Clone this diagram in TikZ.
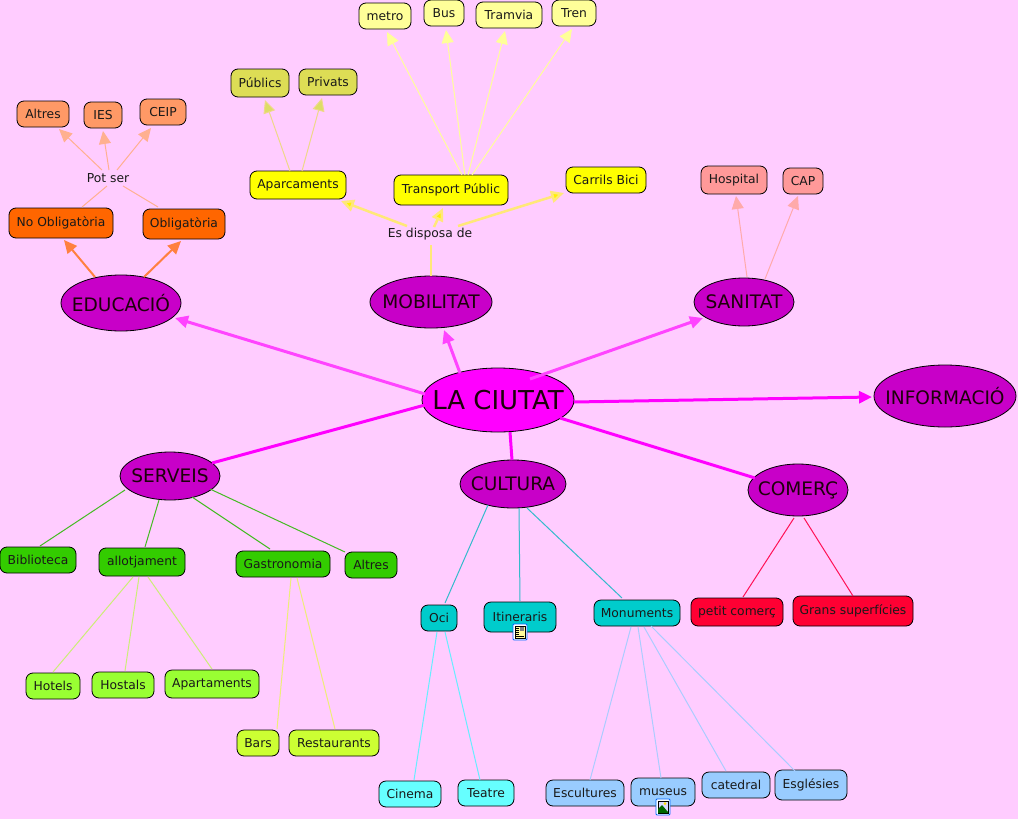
\documentclass[tikz,border=0pt]{standalone}
\usepackage{fontspec}
\setmainfont{DejaVu Sans}
\usetikzlibrary{arrows.meta,calc,shapes.geometric}
\definecolor{bg}{HTML}{FFCCFF}
\definecolor{HubC}{HTML}{C800C8}
\definecolor{mainmag}{HTML}{FF00FF}
\definecolor{ml}{HTML}{FF44FF}
\definecolor{EdC}{HTML}{FF8040}
\definecolor{EdL}{HTML}{FFB090}
\definecolor{MoC}{HTML}{FFE878}
\definecolor{PaC}{HTML}{EED888}
\definecolor{DDl}{HTML}{DDDD66}
\definecolor{TrC}{HTML}{FFFF99}
\definecolor{SaC}{HTML}{FFAAAA}
\definecolor{SeC}{HTML}{44BB22}
\definecolor{AlC}{HTML}{CCEE77}
\definecolor{GaC}{HTML}{EEEE77}
\definecolor{CuC}{HTML}{33BBCC}
\definecolor{OcC}{HTML}{66EEFF}
\definecolor{MnC}{HTML}{AACCFF}
\definecolor{CoC}{HTML}{FF1155}
\tikzset{
 x=1pt,y=-1pt,
 hub/.style={ellipse,draw=black,line width=.8pt,fill=#1,inner sep=0pt,text=black!85!purple},
 bx/.style={rectangle,rounded corners=7pt,draw=black,line width=.8pt,fill=#1,inner sep=0pt,font=\fontsize{12.3}{14}\selectfont,text=black!90},
 lbl/.style={inner sep=0pt,font=\fontsize{12.3}{14}\selectfont,text=black!90},
 tip/.style={-{Triangle[length=13pt,width=12pt,fill=#1]}},
 conn/.style={draw=#1,line width=1pt},
 mainl/.style={draw=#1,line width=3pt},
}
\newcommand{\cn}[6]{\draw[#1] ($(#2)+(#3)$) -- ($(#4)+(#5)$)#6;}
\begin{document}
\begin{tikzpicture}
\path[fill=bg] (0,0) rectangle (1018,819);
\useasboundingbox (0,0) rectangle (1018,819);
% hubs
\node[hub=mainmag,minimum width=152pt,minimum height=64pt,font=\fontsize{26}{28}\selectfont] (ciutat) at (498,400) {\makebox[0pt][c]{LA CIUTAT}};
\foreach \nm/\tx/\xx/\yy/\w/\hh in {info/INFORMACIÓ/945/396/142/62,edu/EDUCACIÓ/121/303/120/56,mob/MOBILITAT/431/302/122/52,san/SANITAT/744/302/100/48,serv/SERVEIS/170/476/100/48,cul/CULTURA/513/484/106/48,com/COMERÇ/798/490/100/52}
 {\node[hub=HubC,minimum width=\w pt,minimum height=\hh pt,font=\fontsize{18.6}{22}\selectfont] (\nm) at (\xx,\yy) {\makebox[0pt][c]{\tx}};}
% boxes
\foreach \nm/\tx/\xx/\yy/\w/\hh/\co in {
 altresa/Altres/43/114/52/26/FF9966, ies/IES/103/115/38/26/FF9966, ceip/CEIP/163/112/46/26/FF9966,
 noob/No Obligatòria/61/223/104/30/FF6600, ob/Obligatòria/184/224/82/30/FF6600,
 pub/Públics/260/83/58/28/DDDD55, priv/Privats/328/82/58/26/DDDD55,
 metro/metro/385/16/52/26/FFFF99, bus/Bus/444/13/40/26/FFFF99, tram/Tramvia/509/15/66/26/FFFF99, tren/Tren/574/13/44/26/FFFF99,
 apar/Aparcaments/298/185/96/28/FFFF00, trans/Transport Públic/451/190/114/30/FFFF00, bici/Carrils Bici/606/180/80/26/FFFF00,
 hosp/Hospital/734/180/66/28/FF9999, cap/CAP/803/181/40/26/FF9999,
 bib/Biblioteca/38/560/76/26/33CC00, allo/allotjament/142/562/86/28/33CC00, gas/Gastronomia/283/564/94/26/33CC00, altresb/Altres/371/565/52/26/33CC00,
 hot/Hotels/53/686/54/26/99FF33, hos/Hostals/123/685/62/26/99FF33, apt/Apartaments/212/684/94/28/99FF33,
 bars/Bars/258/743/42/26/CCFF33, rest/Restaurants/334/743/90/26/CCFF33,
 oci/Oci/439/618/36/26/00CCCC, iti/Itineraris/520/617/72/30/00CCCC, mon/Monuments/637/613/86/26/00CCCC,
 cine/Cinema/410/794/62/26/66FFFF, tea/Teatre/486/793/56/26/66FFFF,
 esc/Escultures/585/793/78/26/99CCFF, mus/museus/663/792/64/28/99CCFF, cat/catedral/736/785/68/26/99CCFF, esg/Esglésies/811/785/72/30/99CCFF,
 pet/petit comerç/737/612/92/28/FF0033, gra/Grans superfícies/853/611/120/30/FF0033}
 {\definecolor{cc}{HTML}{\co}\node[bx=cc,minimum width=\w pt,minimum height=\hh pt] (\nm) at (\xx,\yy) {\tx};}
\node[lbl] (pot) at (108,178) {Pot ser};
\node[lbl] (esd) at (430,234) {Es disposa de};
% icons
\foreach \xx/\yy/\k in {520/632/0,663/807/1}{
 \fill[white,draw=blue!60!cyan,line width=.8pt,rounded corners=1pt] (\xx-7,\yy-8) rectangle (\xx+7,\yy+8);
 \ifnum\k=0
  \fill[yellow!40,draw=black,line width=.5pt] (\xx-5,\yy-6) rectangle (\xx+5,\yy+6);
  \fill[gray] (\xx,\yy-5) rectangle (\xx+4,\yy-1);
  \foreach \d in {-4,-2,0,2,4}{\draw[black,line width=.5pt] (\xx-4,\yy+\d) -- (\xx-1,\yy+\d);}
  \draw[black,line width=.5pt] (\xx-4,\yy+4) -- (\xx+4,\yy+4);
 \else
  \fill[white!85!blue,draw=black,line width=.5pt] (\xx-5,\yy-6) rectangle (\xx+5,\yy+6);
  \fill[green!40!black] (\xx-5,\yy+6) -- (\xx-5,\yy+2) -- (\xx-1,\yy-2) -- (\xx+5,\yy+5) -- (\xx+5,\yy+6) -- cycle;
  \fill[yellow!80!orange] (\xx+2,\yy-3.5) circle (1.5);
 \fi
}
% main links
\cn{mainl=ml,tip=ml}{ciutat}{-73,-6}{edu}{54,15}{}
\cn{mainl=ml,tip=ml}{ciutat}{-38,-27}{mob}{13,28}{}
\cn{mainl=ml,tip=ml}{ciutat}{32,-21}{san}{-41,16}{}
\cn{mainl=mainmag,tip=mainmag}{ciutat}{76,2}{info}{-73,1}{}
\cn{mainl=mainmag}{ciutat}{-73,5}{serv}{42,-13}{}
\cn{mainl=mainmag}{ciutat}{12,32}{cul}{-1,-24}{}
\cn{mainl=mainmag}{ciutat}{62,18}{com}{-43,-12}{}
% educacio
\cn{conn=EdC,line width=2pt,tip=EdC}{edu}{-26,-26}{noob}{3,17}{}
\cn{conn=EdC,line width=2pt,tip=EdC}{edu}{23,-26}{ob}{-3,17}{}
\cn{conn=EdL}{noob}{21,-16}{pot}{-1,8}{}
\cn{conn=EdL}{ob}{-26,-17}{pot}{15,8}{}
\cn{conn=EdL,tip=EdL}{pot}{-6,-8}{altresa}{16,15}{}
\cn{conn=EdL,tip=EdL}{pot}{1,-8}{ies}{0,16}{}
\cn{conn=EdL,tip=EdL}{pot}{9,-8}{ceip}{-12,16}{}
% mobilitat
\cn{conn=MoC,line width=2pt}{mob}{0,-26}{esd}{1,11}{}
\cn{conn=MoC,line width=2.5pt,tip=yellow}{esd}{-23,-8}{apar}{43,16}{}
\cn{conn=MoC,line width=2.5pt,tip=yellow}{esd}{4,-7}{trans}{-8,18}{}
\cn{conn=MoC,line width=2.5pt,tip=yellow}{esd}{28,-8}{bici}{-42,13}{}
\cn{conn=PaC,tip=DDl}{apar}{-8,-14}{pub}{5,17}{}
\cn{conn=PaC,tip=DDl}{apar}{4,-14}{priv}{-6,16}{}
\cn{conn=TrC,tip=TrC}{trans}{11,-15}{metro}{2,16}{}
\cn{conn=TrC,tip=TrC}{trans}{14,-15}{bus}{2,17}{}
\cn{conn=TrC,tip=TrC}{trans}{17,-15}{tram}{-4,16}{}
\cn{conn=TrC,tip=TrC}{trans}{21,-15}{tren}{-2,16}{}
% sanitat
\cn{conn=SaC,tip=SaC}{san}{3,-25}{hosp}{2,16}{}
\cn{conn=SaC,tip=SaC}{san}{21,-23}{cap}{-5,15}{}
% serveis
\cn{conn=SeC}{serv}{-45,14}{bib}{2,-14}{}
\cn{conn=SeC}{serv}{-11,24}{allo}{3,-15}{}
\cn{conn=SeC}{serv}{22,21}{gas}{-13,-15}{}
\cn{conn=SeC}{serv}{40,13}{altresb}{-26,-13}{}
\cn{conn=AlC}{allo}{-9,15}{hot}{0,-14}{}
\cn{conn=AlC}{allo}{-3,15}{hos}{2,-14}{}
\cn{conn=AlC}{allo}{6,15}{apt}{0,-15}{}
\cn{conn=GaC}{gas}{8,14}{bars}{19,-14}{}
\cn{conn=GaC}{gas}{14,14}{rest}{1,-14}{}
% cultura
\cn{conn=CuC}{cul}{-25,21}{oci}{6,-15}{}
\cn{conn=CuC}{cul}{6,24}{iti}{0,-16}{}
\cn{conn=CuC}{cul}{14,24}{mon}{-15,-15}{}
\cn{conn=OcC}{oci}{-2,14}{cine}{4,-14}{}
\cn{conn=OcC}{oci}{6,14}{tea}{-6,-13}{}
\cn{conn=MnC}{mon}{-6,14}{esc}{5,-13}{}
\cn{conn=MnC}{mon}{1,14}{mus}{-2,-14}{}
\cn{conn=MnC}{mon}{7,14}{cat}{-10,-14}{}
\cn{conn=MnC}{mon}{14,13}{esg}{-16,-14}{}
% comerc
\cn{conn=CoC}{com}{-4,28}{pet}{6,-15}{}
\cn{conn=CoC}{com}{6,28}{gra}{0,-15}{}
\end{tikzpicture}
\end{document}
